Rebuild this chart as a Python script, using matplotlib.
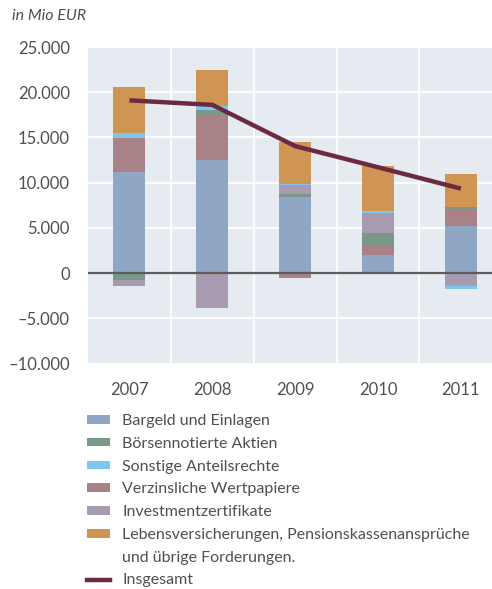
#!/usr/bin/env python3
# coding: utf-8

"""Geldvermögensbildung der privaten Haushalte 2007-2011, gestapelte Balken."""

import matplotlib
matplotlib.use("Agg")
import matplotlib.pyplot as plt
from matplotlib.patches import Patch
from matplotlib.lines import Line2D
from matplotlib.ticker import FuncFormatter, FixedLocator
import numpy as np

years = ["2007", "2008", "2009", "2010", "2011"]

# in Mio EUR
bargeld = [11200, 12540, 8380, 1950, 5260]
verzinsliche = [3750, 4850, -590, 1100, 1760]
boersen = [-800, 660, 330, 1360, 260]
investment = [-670, -3860, 1000, 2200, -1470]
sonstige = [550, 440, 180, 220, -330]
leben = [5100, 3970, 4630, 5030, 3710]
insgesamt = [19100, 18600, 14040, 11700, 9340]

label_bargeld = "Bargeld und Einlagen"
label_boersen = "Börsennotierte Aktien"
label_sonstige = "Sonstige Anteilsrechte"
label_verzinsliche = "Verzinsliche Wertpapiere"
label_investment = "Investmentzertifikate"
label_leben = "Lebensversicherungen, Pensionskassenansprüche"
label_leben2 = "und übrige Forderungen."
label_insgesamt = "Insgesamt"

c_bargeld = "#8fa6c4"
c_boersen = "#7a9888"
c_sonstige = "#7cc7ee"
c_verzinsliche = "#a88287"
c_investment = "#a89ab0"
c_leben = "#d09552"
c_insgesamt = "#6b2a40"
c_text = "#505050"

plt.rcParams["font.family"] = ["Lato", "DejaVu Sans"]
plt.rcParams["font.size"] = 11.5
plt.rcParams["text.color"] = c_text

fig = plt.figure(figsize=(4.92, 5.89), dpi=100)
ax = fig.add_axes([88 / 492, 1 - 363.5 / 589, 1 - 88 / 492, (363.5 - 47) / 589])
ax.set_facecolor("#e6eaf1")

x = np.arange(len(years))
width = 0.387

# stack positive and negative parts separately, same order in both
stack = [
    (bargeld, c_bargeld),
    (verzinsliche, c_verzinsliche),
    (boersen, c_boersen),
    (investment, c_investment),
    (sonstige, c_sonstige),
    (leben, c_leben),
]
pos = np.zeros(len(years))
neg = np.zeros(len(years))
for vals, col in stack:
    v = np.array(vals, dtype=float)
    bottom = np.where(v >= 0, pos, neg)
    ax.bar(x, v, width, bottom=bottom, color=col, linewidth=0, zorder=2)
    pos += np.where(v >= 0, v, 0)
    neg += np.where(v < 0, v, 0)

ax.axhline(0, color="#5c5c5c", linewidth=1.6, zorder=3)
ax.plot(x, insgesamt, color=c_insgesamt, linewidth=3.2, zorder=4,
        solid_capstyle="butt", solid_joinstyle="miter")

ax.set_xlim(-0.5, 4.375)
ax.set_ylim(-10000, 25000)
ax.set_xticks(x)
ax.set_xticklabels(years)
ax.xaxis.set_minor_locator(FixedLocator(x[:-1] + 0.5))
ax.set_yticks(np.arange(-10000, 25001, 5000))


def fmt(v, pos):
    s = "{:,.0f}".format(abs(v)).replace(",", ".")
    return ("\u2013" + s) if v < 0 else s


ax.yaxis.set_major_formatter(FuncFormatter(fmt))
ax.tick_params(axis="both", which="both", length=0, labelsize=12, colors=c_text)
ax.tick_params(axis="y", pad=13)
ax.tick_params(axis="x", pad=13)
ax.grid(True, axis="y", which="major", color="white", linewidth=1.3, zorder=1)
ax.grid(True, axis="x", which="minor", color="white", linewidth=1.3, zorder=1)
ax.set_axisbelow(True)
for s in ax.spines.values():
    s.set_visible(False)

fig.text(12 / 492, 1 - 16 / 589, "in Mio EUR", style="italic", fontsize=11.5,
         va="center", ha="left", color=c_text)

handles = [
    Patch(color=c_bargeld, linewidth=0),
    Patch(color=c_boersen, linewidth=0),
    Patch(color=c_sonstige, linewidth=0),
    Patch(color=c_verzinsliche, linewidth=0),
    Patch(color=c_investment, linewidth=0),
    Patch(color=c_leben, linewidth=0),
    Patch(color="none", linewidth=0),
    Line2D([], [], color=c_insgesamt, linewidth=3.2),
]
labels = [label_bargeld, label_boersen, label_sonstige, label_verzinsliche,
          label_investment, label_leben, label_leben2, label_insgesamt]
fig.legend(handles, labels, loc="upper left", bbox_to_anchor=(87 / 492, 1 - 414 / 589),
           frameon=False, handlelength=1.45, handleheight=0.45, handletextpad=0.75,
           labelspacing=0.55, fontsize=11.5, borderaxespad=0, borderpad=0)

fig.savefig("out.png", dpi=100)
